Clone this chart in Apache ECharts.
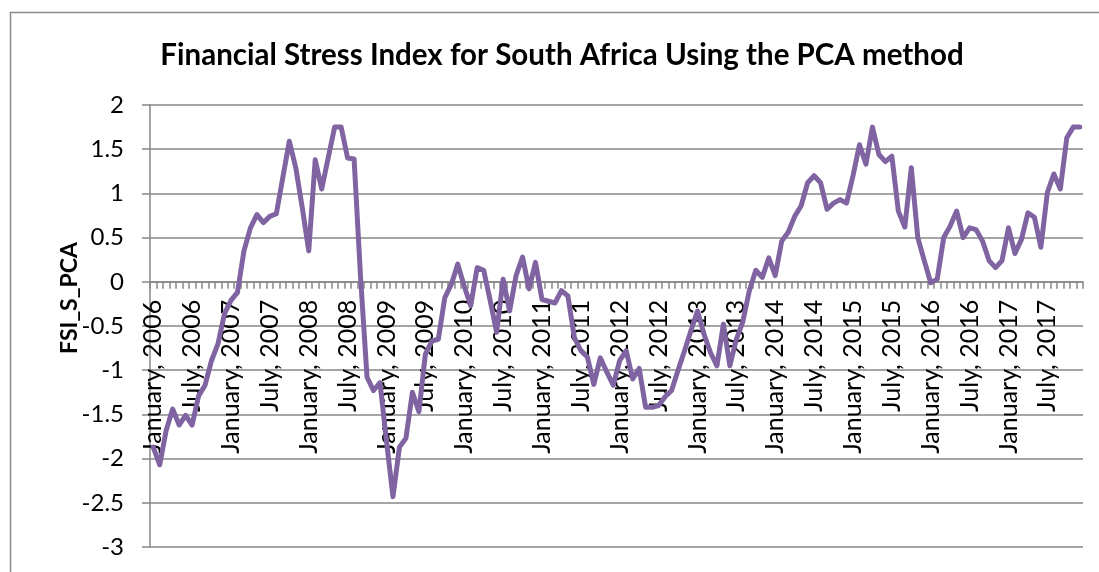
<!DOCTYPE html>
<html>
<head>
<meta charset="utf-8">
<script src="https://cdn.jsdelivr.net/npm/echarts@6/dist/echarts.min.js"></script>
<style>
html,body{margin:0;padding:0;background:#fff;}
#chart{width:1099px;height:572px;}
</style>
</head>
<body>
<div id="chart"></div>
<script>
const titleText = 'Financial Stress Index for South Africa Using the PCA method';
const yAxisName = 'FSI_S_PCA';
const monthNames = ['January','February','March','April','May','June','July','August','September','October','November','December'];
const years = [2006,2007,2008,2009,2010,2011,2012,2013,2014,2015,2016,2017];
const yTicks = {min: -3, max: 2, interval: 0.5};

const fsi = [
  -1.87,-2.07,-1.68,-1.44,-1.62,-1.51,-1.62,-1.29,-1.17,-0.89,-0.70,-0.36,
  -0.21,-0.12,0.35,0.61,0.76,0.67,0.74,0.77,1.18,1.59,1.29,0.84,
  0.35,1.38,1.05,1.40,1.75,1.75,1.40,1.39,0.05,-1.08,-1.23,-1.14,
  -1.80,-2.43,-1.87,-1.77,-1.25,-1.47,-0.82,-0.67,-0.65,-0.18,-0.03,0.20,
  -0.05,-0.27,0.16,0.13,-0.21,-0.57,0.03,-0.33,0.07,0.28,-0.08,0.22,
  -0.20,-0.22,-0.24,-0.10,-0.16,-0.63,-0.78,-0.85,-1.16,-0.86,-1.02,-1.17,
  -0.89,-0.78,-1.10,-0.98,-1.42,-1.42,-1.40,-1.30,-1.23,-1.00,-0.78,-0.55,
  -0.33,-0.59,-0.80,-0.95,-0.48,-0.95,-0.65,-0.45,-0.10,0.13,0.05,0.27,
  0.07,0.46,0.56,0.74,0.86,1.12,1.20,1.12,0.82,0.89,0.93,0.89,
  1.20,1.55,1.33,1.75,1.44,1.36,1.42,0.80,0.62,1.29,0.50,0.24,
  -0.01,0.03,0.50,0.63,0.80,0.50,0.61,0.59,0.46,0.24,0.16,0.24,
  0.61,0.32,0.48,0.78,0.73,0.39,1.01,1.22,1.05,1.63,1.75,1.75
];

const categories = [];
years.forEach(y => monthNames.forEach(m => categories.push(m + ', ' + y)));

const FONT = 'Lato';
const gridColor = '#878787';
const GRID_TOP = 105, GRID_BOTTOM = 25, H = 572;
// shift the category axis up so it sits on the zero line of the value axis
const plotH = H - GRID_TOP - GRID_BOTTOM;
const zeroOffset = plotH * (0 - yTicks.min) / (yTicks.max - yTicks.min);

const chart = echarts.init(document.getElementById('chart'), null, {renderer: 'canvas'});
chart.setOption({
  animation: false,
  backgroundColor: '#ffffff',
  title: {
    text: titleText,
    left: 557, top: 35, textAlign: 'center',
    textStyle: {fontFamily: FONT, fontWeight: 'bold', fontSize: 29.5, color: '#000'}
  },
  graphic: [
    {type: 'rect', shape: {x: 10.5, y: 12.5, width: 1300, height: 800}, style: {fill: 'none', stroke: '#8a8a8a', lineWidth: 1.5}, silent: true},
    {type: 'text', x: 70, y: 298, rotation: Math.PI / 2, style: {text: yAxisName, font: 'bold 23px ' + FONT, fill: '#000', align: 'center', verticalAlign: 'middle'}}
  ],
  grid: {left: 150, right: 16, top: GRID_TOP, bottom: GRID_BOTTOM, containLabel: false, outerBoundsMode: 'none'},
  xAxis: {
    type: 'category',
    data: categories,
    boundaryGap: true,
    position: 'bottom',
    offset: -zeroOffset,
    axisLine: {onZero: false, lineStyle: {color: gridColor, width: 1.5}},
    axisTick: {show: true, interval: 0, length: 7, lineStyle: {color: gridColor, width: 1.5}},
    axisLabel: {interval: 5, rotate: 90, margin: 18, fontFamily: FONT, fontSize: 25, color: '#000'},
    splitLine: {show: false}
  },
  yAxis: {
    type: 'value',
    min: yTicks.min, max: yTicks.max, interval: yTicks.interval,
    axisLine: {show: true, lineStyle: {color: gridColor, width: 1.5}},
    axisTick: {show: true, length: 8, lineStyle: {color: gridColor, width: 1.5}},
    axisLabel: {margin: 26, fontFamily: FONT, fontSize: 24, color: '#000'},
    splitLine: {show: true, lineStyle: {color: gridColor, width: 1.5}}
  },
  series: [{
    type: 'line',
    data: fsi,
    showSymbol: false,
    smooth: false,
    lineStyle: {color: '#8064A2', width: 5, cap: 'round', join: 'round'},
    z: 3
  }]
});
</script>
</body>
</html>
